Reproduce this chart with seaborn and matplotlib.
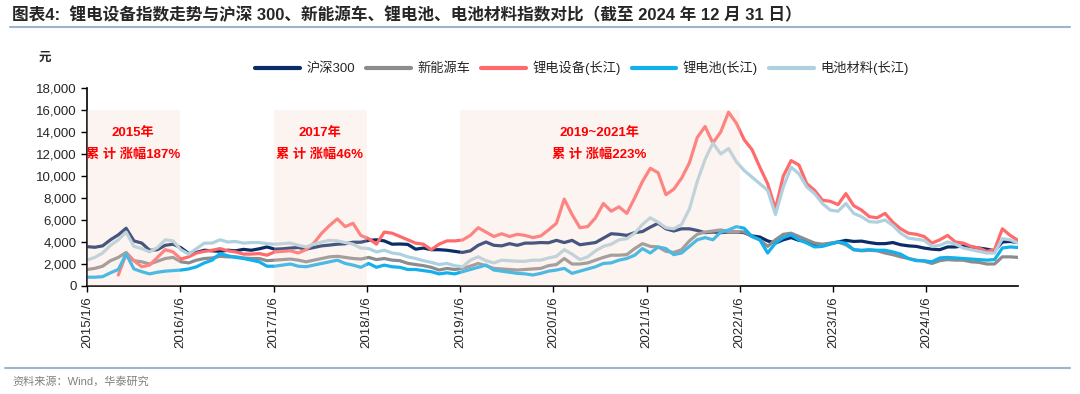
import pandas as pd
import numpy as np
import matplotlib; matplotlib.use('Agg')
import matplotlib.pyplot as plt
import matplotlib.ticker as mticker
from matplotlib.lines import Line2D
import seaborn as sns

# monthly readings, 2015/1/6 -> 2024/12/31
HS300 = [3580, 3520, 3650, 4200, 4650, 5250, 4100, 3900, 3250, 3300, 3700, 3800,
         3480, 2950, 3050, 3250, 3200, 3150, 3250, 3200, 3330, 3250, 3380, 3550,
         3350, 3380, 3450, 3500, 3350, 3500, 3650, 3720, 3800, 3840, 3980, 3980,
         4150, 4200, 4100, 3800, 3820, 3780, 3350, 3450, 3300, 3300, 3250, 3150,
         3050, 3200, 3700, 4000, 3700, 3650, 3850, 3700, 3900, 3900, 3950, 3930,
         4150, 3950, 4150, 3750, 3850, 3950, 4350, 4750, 4700, 4600, 4850, 4950,
         5350, 5700, 5200, 5000, 5200, 5200, 5050, 4850, 4900, 4850, 4900, 4900,
         4850, 4550, 4450, 4100, 3900, 4200, 4400, 4150, 4050, 3700, 3700, 3850,
         4000, 4150, 4050, 4080, 3950, 3850, 3850, 3950, 3750, 3650, 3600, 3450,
         3350, 3300, 3550, 3550, 3650, 3550, 3450, 3350, 3200, 4000, 4050, 3950]
NEV = [1500, 1600, 1800, 2300, 2600, 3050, 2300, 2200, 2000, 2250, 2500, 2600,
       2200, 2100, 2350, 2500, 2550, 2700, 2650, 2650, 2550, 2500, 2500, 2300,
       2350, 2400, 2450, 2350, 2200, 2350, 2500, 2650, 2700, 2600, 2500, 2450,
       2600, 2400, 2500, 2350, 2300, 2060, 1950, 1850, 1700, 1450, 1600, 1500,
       1600, 1800, 2050, 1850, 1600, 1550, 1500, 1450, 1500, 1550, 1600, 1850,
       1950, 2500, 2000, 2000, 2100, 2350, 2600, 2800, 2800, 2850, 3400, 3850,
       3600, 3550, 3150, 3050, 3300, 4100, 4700, 4900, 5000, 5100, 4950, 4950,
       4900, 4500, 4200, 3600, 4200, 4700, 4800, 4500, 4200, 3900, 3800, 3900,
       4000, 3750, 3300, 3200, 3250, 3200, 3000, 2850, 2650, 2500, 2350, 2250,
       2050, 2300, 2400, 2350, 2350, 2200, 2150, 2000, 2000, 2650, 2650, 2600]
EQUIP = [np.nan, np.nan, np.nan, np.nan, 1000, 2900, 2300, 1750, 1900, 2600, 3300, 3100,
         2450, 2650, 3000, 3150, 3250, 3400, 3200, 3100, 2900, 2900, 2950, 2800,
         3100, 3150, 3200, 3000, 3300, 3900, 4800, 5500, 6100, 5400, 5700, 4600,
         4300, 3800, 4900, 4800, 4500, 4200, 3900, 3800, 3300, 3800, 4100, 4100,
         4180, 4600, 5300, 4900, 4500, 4750, 4500, 4700, 4600, 4400, 4550, 5100,
         5700, 7900, 6500, 5300, 5400, 6200, 7500, 6800, 7200, 6600, 8000, 9500,
         10700, 10300, 8300, 8800, 9800, 11200, 13500, 14500, 13000, 14000, 15800, 14800,
         13300, 12400, 10800, 9300, 7000, 10000, 11400, 11000, 9300, 8700, 7800, 7700,
         7400, 8400, 7300, 6900, 6300, 6200, 6600, 5800, 5200, 4800, 4700, 4500,
         3900, 4200, 4600, 4000, 3900, 3600, 3450, 3150, 3300, 5200, 4600, 4150]
BATT = [800, 800, 850, 1200, 1500, 2900, 1550, 1300, 1100, 1250, 1350, 1400,
        1450, 1550, 1750, 2100, 2350, 2950, 2750, 2600, 2500, 2350, 2200, 1800,
        1800, 1900, 2000, 1800, 1750, 1900, 2050, 2200, 2350, 2050, 1900, 1700,
        2050, 1700, 1900, 1750, 1700, 1500, 1500, 1400, 1300, 1100, 1200, 1100,
        1300, 1500, 1700, 1900, 1450, 1350, 1250, 1150, 1100, 1000, 1150, 1350,
        1450, 1600, 1150, 1350, 1550, 1750, 2050, 2100, 2350, 2500, 2800, 3400,
        3000, 3550, 3400, 2850, 3000, 3600, 4200, 4400, 4200, 4900, 5100, 5400,
        5250, 4500, 4200, 3000, 3900, 4400, 4650, 4200, 3900, 3550, 3600, 3800,
        4000, 3880, 3300, 3250, 3300, 3250, 3250, 3100, 2900, 2500, 2300, 2300,
        2200, 2550, 2600, 2550, 2500, 2450, 2400, 2350, 2400, 3450, 3550, 3500]
MATER = [2350, 2600, 3000, 3700, 4200, 4900, 3600, 3400, 3100, 3500, 4200, 4100,
         3300, 2900, 3400, 3900, 3900, 4200, 4000, 4050, 3900, 3950, 3950, 3850,
         3800, 3850, 3900, 3700, 3550, 3800, 4000, 4150, 4100, 3950, 3800, 3450,
         3400, 3100, 3250, 3000, 2900, 2650, 2500, 2300, 2150, 1950, 2050, 1850,
         1750, 2350, 2650, 2300, 2100, 2350, 2300, 2250, 2250, 2350, 2350, 2550,
         2700, 3300, 2900, 2400, 2650, 3200, 3600, 3800, 4200, 4300, 4800, 5600,
         6200, 5800, 5300, 5200, 5600, 7000, 9500, 11500, 13000, 12000, 12500, 11300,
         10500, 9900, 9300, 8700, 6500, 9000, 10800, 10200, 9000, 8400, 7500, 6900,
         6800, 7500, 6600, 6300, 5850, 5800, 6000, 5500, 4800, 4350, 4250, 4150,
         3600, 3700, 4000, 3800, 3450, 3300, 3150, 3000, 3000, 4300, 4200, 3900]

SERIES = ['沪深300', '新能源车', '锂电设备(长江)', '锂电池(长江)', '电池材料(长江)']
COLORS = ['#0B2C66', '#8C8C8C', '#FF6B6B', '#12B0EC', '#AFD1DF']
XTICKS = ['2015/1/6', '2016/1/6', '2017/1/6', '2018/1/6', '2019/1/6',
          '2020/1/6', '2021/1/6', '2022/1/6', '2023/1/6', '2024/1/6']
SPANS = [('2015-01-06', '2016-01-06'), ('2017-01-06', '2018-01-06'), ('2019-01-06', '2022-01-06')]
NOTES = [('2015-07-06', '2015年', '累 计 涨幅187%'),
         ('2017-07-06', '2017年', '累 计 涨幅46%'),
         ('2020-07-06', '2019~2021年', '累 计 涨幅223%')]

sns.set_style('white')
plt.rcParams['font.family'] = ['Liberation Sans', 'Noto Sans CJK SC', 'DejaVu Sans']

dates = pd.date_range('2015-01-06', '2024-12-31', periods=len(HS300))
wide = pd.DataFrame({'date': dates, SERIES[0]: HS300, SERIES[1]: NEV, SERIES[2]: EQUIP,
                     SERIES[3]: BATT, SERIES[4]: MATER})
df = wide.melt(id_vars='date', var_name='series', value_name='value').dropna()

fig = plt.figure(figsize=(10.8, 3.94), dpi=100)
ax = fig.add_axes([87/1080, 1-286/394, (1018-87)/1080, (286-88)/394])

sns.lineplot(data=df, x='date', y='value', hue='series', hue_order=SERIES,
             palette=COLORS, lw=2.3, estimator=None, sort=False, ax=ax)

# shaded periods sit over the lines, so the lines look faded inside them
for s, e in SPANS:
    ax.fill_between(pd.to_datetime([s, e]), 0, 16000, color='#F7D5C8', alpha=0.25, lw=0, zorder=3)
for x, l1, l2 in NOTES:
    ax.text(pd.Timestamp(x), 13900, l1, color='#FF0000', fontsize=9.5, fontweight='bold',
            ha='center', va='center', zorder=5)
    ax.text(pd.Timestamp(x), 11900, l2, color='#FF0000', fontsize=9.5, fontweight='bold',
            ha='center', va='center', zorder=5)

ax.set_xlim(pd.Timestamp('2015-01-06'), pd.Timestamp('2024-12-31'))
ax.set_ylim(0, 18000)
ax.set_yticks(range(0, 18001, 2000))
ax.yaxis.set_major_formatter(mticker.FuncFormatter(lambda v, p: f'{int(v):,}'))
ax.set_xticks(pd.to_datetime(XTICKS, format='%Y/%m/%d'))
ax.set_xticklabels(XTICKS, rotation=90)
ax.tick_params(axis='both', labelsize=9.5, length=4, width=1, direction='out', color='black',
               left=True, bottom=True)
ax.set_xlabel(''); ax.set_ylabel('')
for sp in ['top', 'right']: ax.spines[sp].set_visible(False)
for sp in ['left', 'bottom']:
    ax.spines[sp].set_color('black'); ax.spines[sp].set_linewidth(1.2)

h, l = ax.get_legend_handles_labels()
ax.get_legend().remove()
for hd in h: hd.set_linewidth(3)
fig.legend(h, l, loc='center', bbox_to_anchor=(582/1080, 1-68/394), ncol=5, frameon=False,
           fontsize=9.5, handlelength=3.4, columnspacing=0.8, handletextpad=0.5)

fig.text(45/1080, 1-58/394, '元', fontsize=9, fontweight='bold', ha='center', va='center')
fig.text(12/1080, 1-15/394, '图表4:  锂电设备指数走势与沪深 300、新能源车、锂电池、电池材料指数对比（截至 2024 年 12 月 31 日）',
         fontsize=12, fontweight='bold', ha='left', va='center')
fig.add_artist(Line2D([10/1080, 1070/1080], [1-27/394]*2, color='#9DB3CE', lw=1.5))
fig.add_artist(Line2D([5/1080, 1070/1080], [1-368/394]*2, color='#9DB3CE', lw=1.5))
fig.text(12/1080, 1-381/394, '资料来源：Wind，华泰研究', fontsize=8, color='#808080', ha='left', va='center')

fig.savefig('out.png', dpi=100)
